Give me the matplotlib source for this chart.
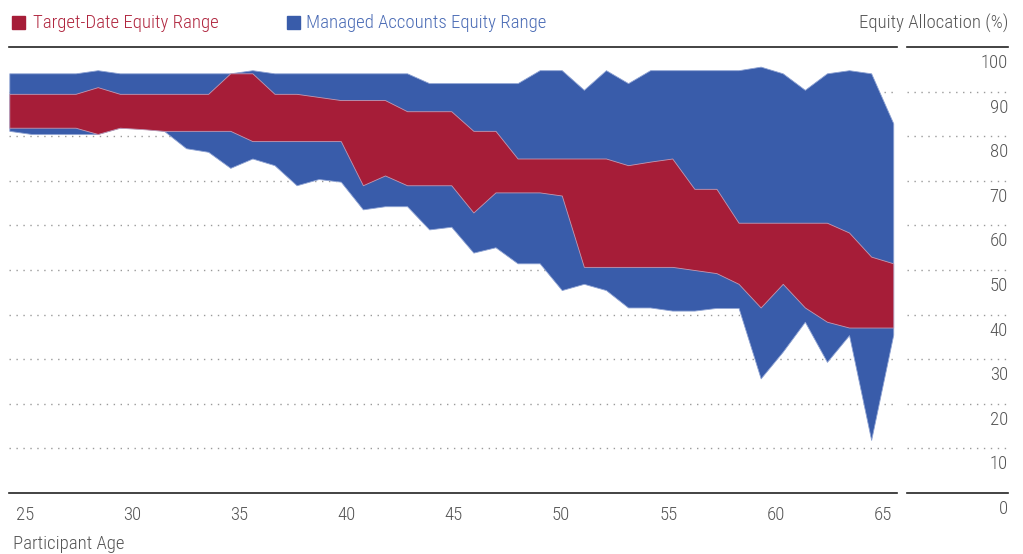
import matplotlib
matplotlib.use("Agg")
import matplotlib.pyplot as plt
import matplotlib.patches as patches
import numpy as np

plt.rcParams['font.family'] = ['Roboto Condensed', 'DejaVu Sans']
plt.rcParams['font.stretch'] = 'condensed'
plt.rcParams['font.weight'] = 'light'

# Data (equity allocation %, by participant age)
ages = np.arange(25, 66)

ma_high = [94.1, 94.1, 94.1, 94.1, 94.8, 94.1, 94.1, 94.1, 94.1, 94.1,
           94.1, 94.8, 94.1, 94.1, 94.1, 94.1, 94.1, 94.1, 94.1, 91.9,
           91.9, 91.9, 91.9, 91.9, 94.8, 94.8, 90.4, 94.8, 91.9, 94.8,
           94.8, 94.8, 94.8, 94.8, 95.6, 94.1, 90.4, 94.1, 94.8, 94.1,
           82.9]
ma_low = [81.2, 80.5, 80.5, 80.5, 80.5, 81.9, 81.7, 81.2, 77.3, 76.5,
          72.9, 75.0, 73.5, 69.0, 70.4, 69.8, 63.6, 64.3, 64.3, 59.1,
          59.7, 53.9, 55.1, 51.5, 51.5, 45.5, 46.9, 45.5, 41.6, 41.6,
          40.9, 40.9, 41.5, 41.5, 25.7, 31.7, 38.4, 29.4, 35.4, 11.9,
          35.5]
td_high = [89.5, 89.5, 89.5, 89.5, 91.0, 89.5, 89.5, 89.5, 89.5, 89.5,
           94.1, 94.1, 89.5, 89.5, 88.8, 88.1, 88.1, 88.1, 85.6, 85.6,
           85.6, 81.2, 81.2, 75.0, 75.0, 75.0, 75.0, 75.0, 73.5, 74.3,
           75.0, 68.2, 68.2, 60.6, 60.6, 60.6, 60.6, 60.6, 58.4, 53.0,
           51.5]
td_low = [81.9, 81.9, 81.9, 81.9, 80.5, 81.9, 81.6, 81.2, 81.2, 81.2,
          81.2, 78.9, 78.9, 78.9, 78.9, 78.9, 69.0, 71.2, 69.0, 69.0,
          69.0, 62.9, 67.4, 67.4, 67.4, 66.7, 50.7, 50.7, 50.7, 50.7,
          50.7, 50.0, 49.3, 46.9, 41.6, 46.9, 41.6, 38.4, 37.1, 37.1,
          37.1]

tick_ages = [25, 30, 35, 40, 45, 50, 55, 60, 65]
y_ticks = [0, 10, 20, 30, 40, 50, 60, 70, 80, 90, 100]

red = '#A61D38'
blue = '#395CAA'
red_text = '#B0263F'
blue_text = '#4A6BB5'
gray_text = '#555555'
grid_gray = '#9A9A9A'
fs = 13.5

W, H = 1023, 554
fig = plt.figure(figsize=(W / 100, H / 100), dpi=100)

# main plot area
ax = fig.add_axes([9 / W, (H - 493) / H, (897 - 9) / W, (493 - 47) / H])
ax.set_xlim(24.986, 65.17)
ax.set_ylim(0, 100)
for s in ax.spines.values():
    s.set_visible(False)

for v in y_ticks:
    if v in (0, 100):
        ax.axhline(v, color='#222222', lw=1.2, zorder=5, clip_on=False)
    else:
        ax.axhline(v, color=grid_gray, lw=1, ls=(0, (1, 4)), zorder=0)

ax.fill_between(ages, ma_low, ma_high, color=blue, lw=0.6,
                edgecolor='#8fa3d3', zorder=2)
ax.fill_between(ages, td_low, td_high, color=red, lw=0.6,
                edgecolor='#c29ab3', zorder=3)

# the x labels sit a bit off the data points in the original
tick_pos = np.linspace(25.7, 64.53, len(tick_ages))
ax.set_xticks(tick_pos)
ax.set_xticklabels([str(a) for a in tick_ages], fontsize=fs, color=gray_text)
ax.tick_params(axis='x', length=0, pad=9)
ax.set_yticks([])

# right-hand value axis
ax2 = fig.add_axes([907 / W, (H - 493) / H, (1008 - 907) / W, (493 - 47) / H])
ax2.set_xlim(0, 1)
ax2.set_ylim(0, 100)
ax2.axis('off')
for v in y_ticks:
    if v in (0, 100):
        ax2.axhline(v, color='#222222', lw=1.2, clip_on=False)
    else:
        ax2.axhline(v, color=grid_gray, lw=1, ls=(0, (1, 4)))
    ax2.annotate(str(v), xy=(1, v), xycoords=('axes fraction', 'data'),
                 xytext=(0, -11.5), textcoords='offset points',
                 ha='right', va='center', fontsize=fs, color=gray_text,
                 annotation_clip=False)

# legend and titles
fig.add_artist(patches.Rectangle((12 / W, 1 - 29 / H), 13 / W, 13 / H,
                                 transform=fig.transFigure, color=red))
fig.text(33 / W, 1 - 23 / H, 'Target-Date Equity Range', fontsize=fs,
         color=red_text, va='center', ha='left')
fig.add_artist(patches.Rectangle((287 / W, 1 - 29 / H), 13 / W, 13 / H,
                                 transform=fig.transFigure, color=blue))
fig.text(306 / W, 1 - 23 / H, 'Managed Accounts Equity Range', fontsize=fs,
         color=blue_text, va='center', ha='left')
fig.text(1008 / W, 1 - 23 / H, 'Equity Allocation (%)', fontsize=fs,
         color=gray_text, va='center', ha='right')
fig.text(13 / W, 1 - 544 / H, 'Participant Age', fontsize=fs,
         color=gray_text, va='center', ha='left')

fig.savefig('out.png', dpi=100)
